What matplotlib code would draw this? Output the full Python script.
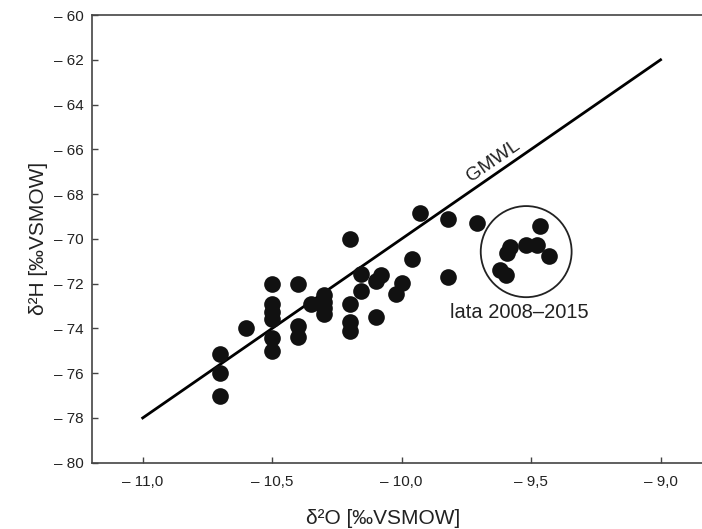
import numpy as np
import matplotlib.pyplot as plt
from matplotlib.patches import Ellipse

plt.rcParams["font.family"] = ["Liberation Sans", "DejaVu Sans"]

# measurements before 2008
d18o = [-10.7, -10.7, -10.7, -10.6,
        -10.5, -10.5, -10.5, -10.5, -10.5, -10.5,
        -10.4, -10.4, -10.4, -10.35,
        -10.3, -10.3, -10.3, -10.3,
        -10.2, -10.2, -10.2, -10.2,
        -10.155, -10.155, -10.1, -10.1, -10.08,
        -10.0, -10.02, -9.96, -9.93, -9.82, -9.82, -9.71]
d2h = [-75.15, -76.0, -77.0, -74.0,
       -72.0, -72.9, -73.25, -73.6, -74.45, -75.0,
       -72.0, -73.9, -74.4, -72.9,
       -72.5, -72.8, -73.1, -73.35,
       -70.0, -72.9, -73.7, -74.1,
       -71.55, -72.35, -71.9, -73.5, -71.6,
       -71.95, -72.45, -70.9, -68.85, -69.1, -71.7, -69.3]

# lata 2008-2015
d18o_new = [-9.464, -9.519, -9.478, -9.429, -9.58, -9.593, -9.622, -9.598]
d2h_new = [-69.43, -70.27, -70.27, -70.77, -70.35, -70.65, -71.39, -71.61]

# global meteoric water line
gmwl_x = np.array([-11.0, -9.0])
gmwl_y = 8 * gmwl_x + 10

x_ticks = [-11.0, -10.5, -10.0, -9.5, -9.0]
x_labels = ["\u2013 11,0", "\u2013 10,5", "\u2013 10,0", "\u2013 9,5", "\u2013 9,0"]
y_ticks = list(range(-80, -59, 2))
y_labels = [f"\u2013 {abs(v)}" for v in y_ticks]

fig = plt.figure(figsize=(7.02, 5.29), dpi=100)
ax = fig.add_axes([0.1306, 0.1253, 0.8694, 0.8463])

ax.plot(gmwl_x, gmwl_y, color="black", lw=2.0, zorder=2)
ax.plot(d18o, d2h, "o", color="#111111", ms=12, mew=0, zorder=3)
ax.plot(d18o_new, d2h_new, "o", color="#111111", ms=12, mew=0, zorder=3)

# circle round the 2008-2015 group
ax.add_patch(Ellipse((-9.519, -70.57), 0.351, 4.07, fill=False,
                     edgecolor="#222222", lw=1.3, zorder=2))

ax.text(-9.722, -67.6, "GMWL", rotation=34.6, rotation_mode="anchor",
        ha="left", va="bottom", fontsize=14, color="#222222")
ax.text(-9.544, -73.3, "lata 2008\u20132015", ha="center", va="center",
        fontsize=14.5, color="#222222")

ax.set_xlim(-11.197, -8.84)
ax.set_ylim(-80, -60)
ax.set_xticks(x_ticks)
ax.set_xticklabels(x_labels)
ax.set_yticks(y_ticks)
ax.set_yticklabels(y_labels)
ax.tick_params(direction="in", length=4, width=1, color="#444444",
               labelsize=11, labelcolor="#222222")
ax.tick_params(axis="x", pad=9)
ax.tick_params(axis="y", pad=6)

ax.spines["right"].set_visible(False)
for side in ["left", "top", "bottom"]:
    ax.spines[side].set_color("#444444")
    ax.spines[side].set_linewidth(1.2)

ax.set_xlabel("\u03b4\u00b2O [\u2030VSMOW]", fontsize=15, color="#222222")
ax.set_ylabel("\u03b4\u00b2H [\u2030VSMOW]", fontsize=15, color="#222222", labelpad=4)
ax.xaxis.set_label_coords(0.477, -0.104)

fig.savefig("out.png", dpi=100)
